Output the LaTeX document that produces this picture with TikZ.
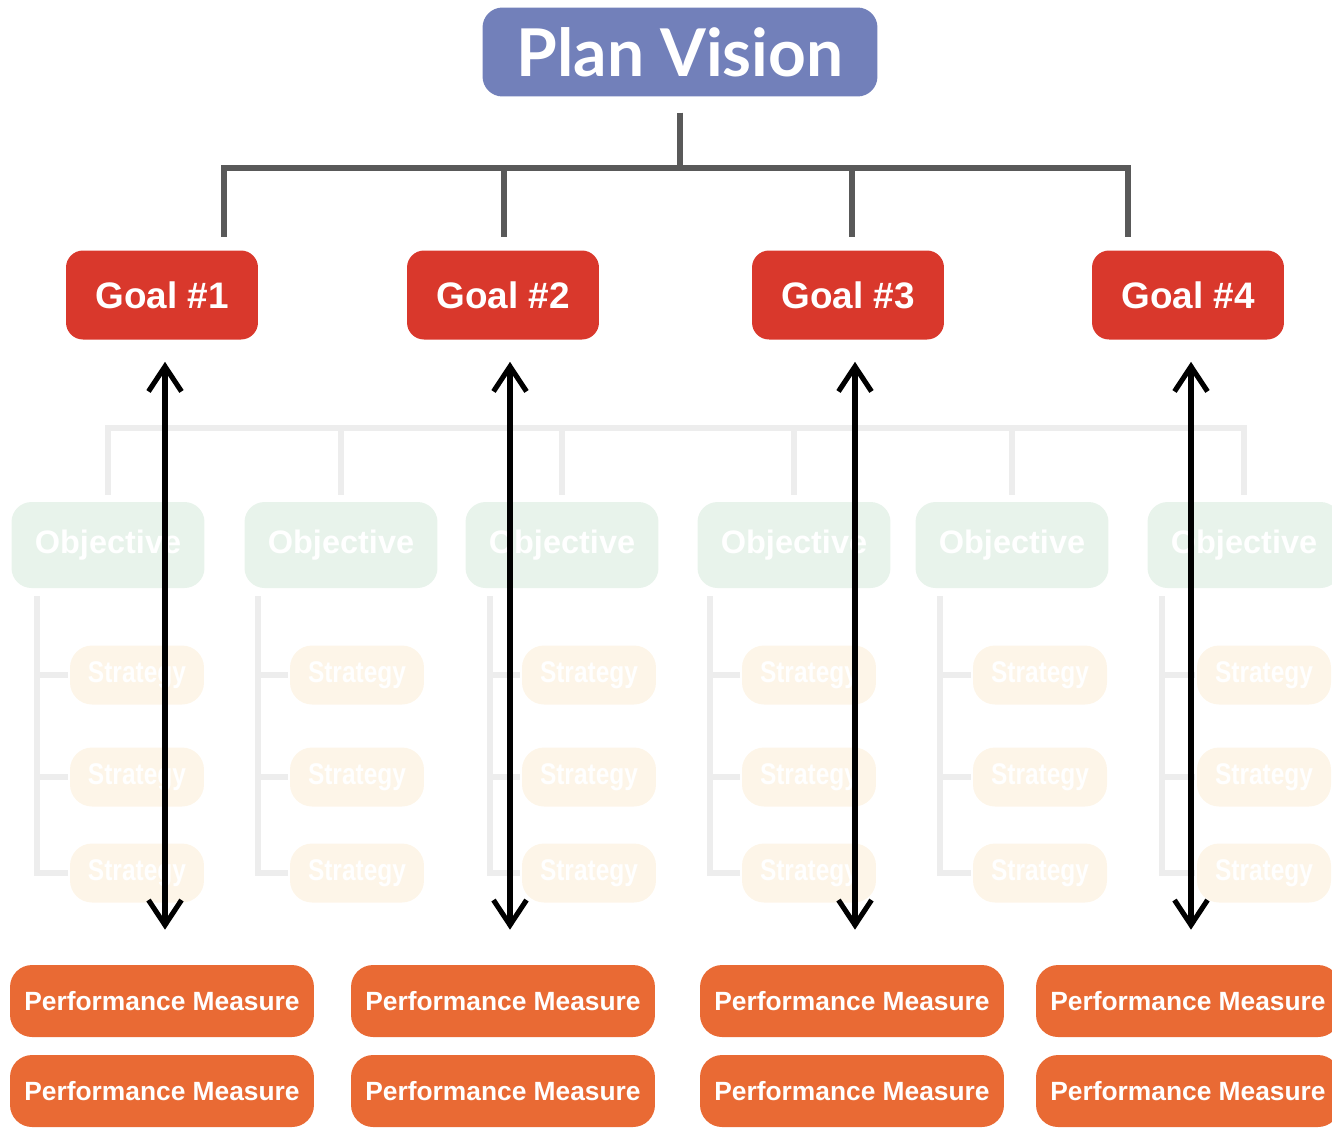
\documentclass[tikz,border=0pt]{standalone}
\usepackage{fontspec}
\setmainfont{Liberation Sans}
\newfontfamily\visionfont{Lato}
\newfontfamily\narrowfont[FakeStretch=0.82]{Liberation Sans}
\usetikzlibrary{positioning}
\usetikzlibrary{arrows.meta}
\definecolor{visionblue}{RGB}{114,128,186}
\definecolor{goalred}{RGB}{217,56,44}
\definecolor{measureorange}{RGB}{233,106,52}
\definecolor{objgreen}{RGB}{232,243,235}
\definecolor{stratcream}{RGB}{253,245,232}
\definecolor{treegray}{RGB}{89,89,89}
\definecolor{faintgray}{RGB}{237,237,237}
\tikzset{
    vision/.style = {rectangle, inner sep=0pt, rounded corners=0.4cm, fill=visionblue, text=white, minimum width=7.9cm, minimum height=1.78cm, font=\visionfont\bfseries\fontsize{37.5}{37.5}\selectfont},
    goal/.style = {rectangle, inner sep=0pt, rounded corners=0.34cm, fill=goalred, text=white, minimum width=3.84cm, minimum height=1.78cm, font=\bfseries\fontsize{21}{21}\selectfont},
    objective/.style = {rectangle, inner sep=0pt, rounded corners=0.4cm, fill=objgreen, text=white, minimum width=3.86cm, minimum height=1.72cm, font=\bfseries\fontsize{18.5}{18.5}\selectfont},
    strategy/.style = {rectangle, inner sep=0pt, rounded corners=0.44cm, fill=stratcream, text=white, minimum width=2.68cm, minimum height=1.18cm, font=\narrowfont\bfseries\fontsize{17}{17}\selectfont},
    measure/.style = {rectangle, inner sep=0pt, rounded corners=0.44cm, fill=measureorange, text=white, minimum width=6.08cm, minimum height=1.44cm, font=\bfseries\fontsize{15}{15}\selectfont},
    treeline/.style = {line width=3.4pt, draw=treegray},
    faintline/.style = {line width=3.4pt, draw=faintgray},
    edgeud/.style = {{Straight Barb[length=0.5cm,width=0.66cm]}-{Straight Barb[length=0.5cm,width=0.66cm]}, line width=2.9pt, black}, % both ways
}

\begin{document}
\begin{tikzpicture}[x=0.02cm, y=-0.02cm]
\useasboundingbox (0,0) rectangle (1332,1127);
\clip (0,0) rectangle (1332,1127);

% faded middle layer
\node[objective] at (108, 545) (o1) {Objective};
\node[objective] at (341, 545) (o2) {Objective};
\node[objective] at (562, 545) (o3) {Objective};
\node[objective] at (794, 545) (o4) {Objective};
\node[objective] at (1012, 545) (o5) {Objective};
\node[objective] at (1244, 545) (o6) {Objective};
\coordinate (obar) at (680, 428);
\draw[faintline, shorten <=0.14cm, shorten >=0.14cm] (o1.north) |- (obar -| o6.north) -- (o6.north);
\draw[faintline, shorten >=0.14cm] (obar -| o2.north) -- (o2.north);
\draw[faintline, shorten >=0.14cm] (obar -| o3.north) -- (o3.north);
\draw[faintline, shorten >=0.14cm] (obar -| o4.north) -- (o4.north);
\draw[faintline, shorten >=0.14cm] (obar -| o5.north) -- (o5.north);

\foreach \col/\sx/\bx in {1/137/37, 2/357/258, 3/589/490, 4/809/710, 5/1040/940, 6/1264/1162} {
  \node[strategy] at (\sx, 675) (s\col-a) {Strategy};
  \node[strategy] at (\sx, 777) (s\col-b) {Strategy};
  \node[strategy] at (\sx, 873) (s\col-c) {Strategy};
  \coordinate (k\col) at (\bx, 596);
  \draw[faintline, shorten >=0.04cm] (k\col) |- (s\col-c.west);
  \draw[faintline, shorten >=0.04cm] (k\col |- s\col-a.west) -- (s\col-a.west);
  \draw[faintline, shorten >=0.04cm] (k\col |- s\col-b.west) -- (s\col-b.west);
}

% vision and goals
\node[vision] at (680, 52) (vision) {Plan Vision};
\node[goal] at (162, 295) (g1) {Goal \#1};
\node[goal] at (503, 295) (g2) {Goal \#2};
\node[goal] at (848, 295) (g3) {Goal \#3};
\node[goal] at (1188, 295) (g4) {Goal \#4};
%
\coordinate (bar) at (680, 168);
\coordinate (d1) at ([xshift=1.24cm]g1.north);
\coordinate (d2) at ([xshift=0.02cm]g2.north);
\coordinate (d3) at ([xshift=0.08cm]g3.north);
\coordinate (d4) at ([xshift=-1.2cm]g4.north);
\draw[treeline, shorten <=0.32cm, shorten >=0.26cm] (vision.south) -- (bar) -| (d1);
\draw[treeline, shorten <=0.32cm, shorten >=0.26cm] (vision.south) -- (bar) -| (d2);
\draw[treeline, shorten <=0.32cm, shorten >=0.26cm] (vision.south) -- (bar) -| (d3);
\draw[treeline, shorten <=0.32cm, shorten >=0.26cm] (vision.south) -- (bar) -| (d4);

% measures
\node[measure] at (162, 1001) (m1a) {Performance Measure};
\node[measure] at (162, 1091) (m1b) {Performance Measure};
\node[measure] at (503, 1001) (m2a) {Performance Measure};
\node[measure] at (503, 1091) (m2b) {Performance Measure};
\node[measure] at (852, 1001) (m3a) {Performance Measure};
\node[measure] at (852, 1091) (m3b) {Performance Measure};
\node[measure] at (1188, 1001) (m4a) {Performance Measure};
\node[measure] at (1188, 1091) (m4b) {Performance Measure};

\draw[edgeud, shorten <=0.44cm, shorten >=0.7cm] ([xshift=0.06cm]g1.south) -- ([xshift=0.06cm]g1.south |- m1a.north);
\draw[edgeud, shorten <=0.44cm, shorten >=0.7cm] ([xshift=0.14cm]g2.south) -- ([xshift=0.14cm]g2.south |- m2a.north);
\draw[edgeud, shorten <=0.44cm, shorten >=0.7cm] ([xshift=0.14cm]g3.south) -- ([xshift=0.14cm]g3.south |- m3a.north);
\draw[edgeud, shorten <=0.44cm, shorten >=0.7cm] ([xshift=0.06cm]g4.south) -- ([xshift=0.06cm]g4.south |- m4a.north);

\end{tikzpicture}
\end{document}
